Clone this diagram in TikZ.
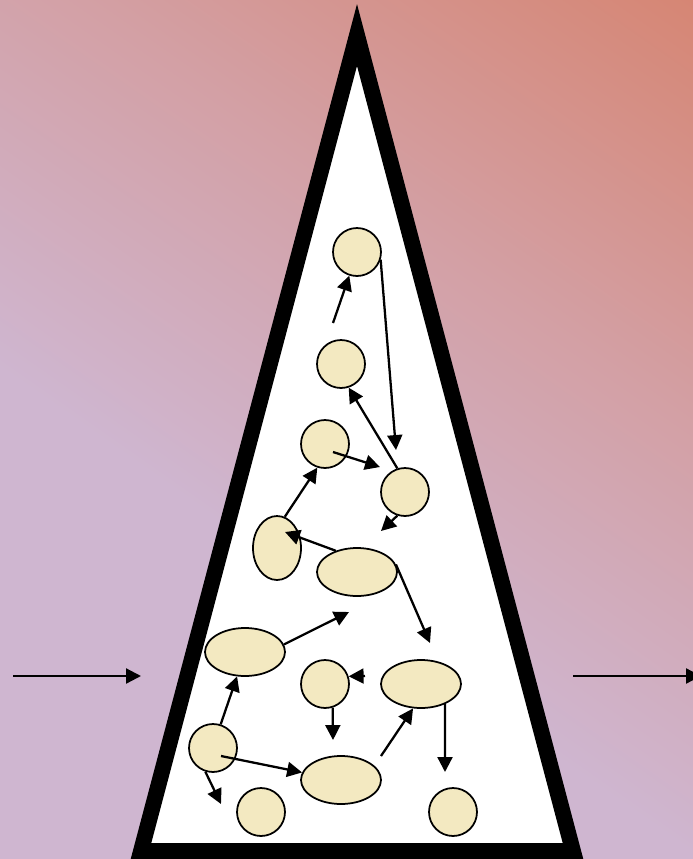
\documentclass[tikz,border=0pt]{standalone}
\usepackage{tikz}
\usetikzlibrary{arrows.meta,shapes.geometric}
\usepackage{xcolor}
\definecolor{bgtop}{RGB}{214,134,116}
\definecolor{bgmid}{RGB}{211,160,165}
\definecolor{bgbot}{RGB}{207,182,208}
\definecolor{cellfill}{RGB}{243,233,193}
\pgfdeclareverticalshading{bgshade}{100bp}{color(0bp)=(bgbot); color(40bp)=(bgbot);
    color(50bp)=(bgmid); color(60bp)=(bgtop); color(100bp)=(bgtop)}

\begin{document}
\begin{tikzpicture}[x=0.02cm,y=-0.02cm]
        \useasboundingbox (0,0) rectangle (693,859);
        \begin{scope}
            \clip (0,0) rectangle (693,859);
            \shade[shading=bgshade, shading angle=-35] (-383,-588) rectangle (1367,1162);
        \end{scope}
        \draw[line width=9pt, line join=miter, fill=white] (141,851) -- (357,35) -- (573,851) -- cycle;
        \begin{scope}[
            every node/.style={draw=black,line width=1pt,fill=cellfill,inner sep=0pt},
            roundcell/.style={circle,minimum size=0.96cm},
            ovalcell/.style={ellipse,minimum width=1.6cm,minimum height=0.96cm},
            tallcell/.style={ellipse,minimum width=0.96cm,minimum height=1.28cm}
        ]
            \node[roundcell] (c1) at (357,252) {};
            \node[roundcell] (c2) at (341,364) {};
            \node[roundcell] (c3) at (325,444) {};
            \node[roundcell] (c4) at (405,492) {};
            \node[tallcell] (e1) at (277,548) {};
            \node[ovalcell] (e2) at (357,572) {};
            \node[ovalcell] (e3) at (245,652) {};
            \node[roundcell] (c5) at (325,684) {};
            \node[ovalcell] (e4) at (421,684) {};
            \node[roundcell] (c6) at (213,748) {};
            \node[ovalcell] (e5) at (341,780) {};
            \node[roundcell] (c7) at (261,812) {};
            \node[roundcell] (c8) at (453,812) {};
        \end{scope}
        \coordinate (p1) at (333,323);
        \coordinate (p2) at (396,450);
        \coordinate (p3) at (333,452);
        \coordinate (p4) at (380,467);
        \coordinate (p5) at (381,531);
        \coordinate (p6) at (285,532);
        \coordinate (p7) at (430,643);
        \coordinate (p8) at (349,612);
        \coordinate (p9) at (365,676);
        \coordinate (p10) at (333,740);
        \coordinate (p11) at (445,772);
        \coordinate (p12) at (381,756);
        \coordinate (p13) at (221,756);
        \coordinate (p14) at (221,804);
        \coordinate (in1) at (13,676);
        \coordinate (in2) at (141,676);
        \coordinate (out1) at (573,676);
        \coordinate (out2) at (701,676);
        \begin{scope}[
            every edge/.style={draw=black,line width=1.3pt}
        ]
            \path [-{Triangle[length=8.5pt,width=8.5pt]}] (p1) edge (c1.-108);
            \path [-{Triangle[length=8.5pt,width=8.5pt]}] (c1.-18) edge (p2);
            \path [-{Triangle[length=8.5pt,width=8.5pt]}] (c4.108) edge (c2.-72);
            \path [-{Triangle[length=8.5pt,width=8.5pt]}] (p3) edge (p4);
            \path [-{Triangle[length=8.5pt,width=8.5pt]}] (c4.-108) edge (p5);
            \path [-{Triangle[length=8.5pt,width=8.5pt]}] (e1.76) edge (c3.-108);
            \path [-{Triangle[length=8.5pt,width=8.5pt]}] (e2.135) edge (p6);
            \path [-{Triangle[length=8.5pt,width=8.5pt]}] (e2.11) edge (p7);
            \path [-{Triangle[length=8.5pt,width=8.5pt]}] (e3.11) edge (p8);
            \path [-{Triangle[length=8.5pt,width=8.5pt]}] (p9) edge (c5.18);
            \path [-{Triangle[length=8.5pt,width=8.5pt]}] (c5.-72) edge (p10);
            \path [-{Triangle[length=8.5pt,width=8.5pt]}] (e4.-40) edge (p11);
            \path [-{Triangle[length=8.5pt,width=8.5pt]}] (p12) edge (e4.-108);
            \path [-{Triangle[length=8.5pt,width=8.5pt]}] (c6.72) edge (e3.-108);
            \path [-{Triangle[length=8.5pt,width=8.5pt]}] (p13) edge (e5.169);
            \path [-{Triangle[length=8.5pt,width=8.5pt]}] (c6.-108) edge (p14);

            \path [-{Triangle[length=8.5pt,width=8.5pt]}] (in1) edge (in2);
            \path [-{Triangle[length=8.5pt,width=8.5pt]}] (out1) edge (out2);
        \end{scope}
    \end{tikzpicture}
\end{document}
